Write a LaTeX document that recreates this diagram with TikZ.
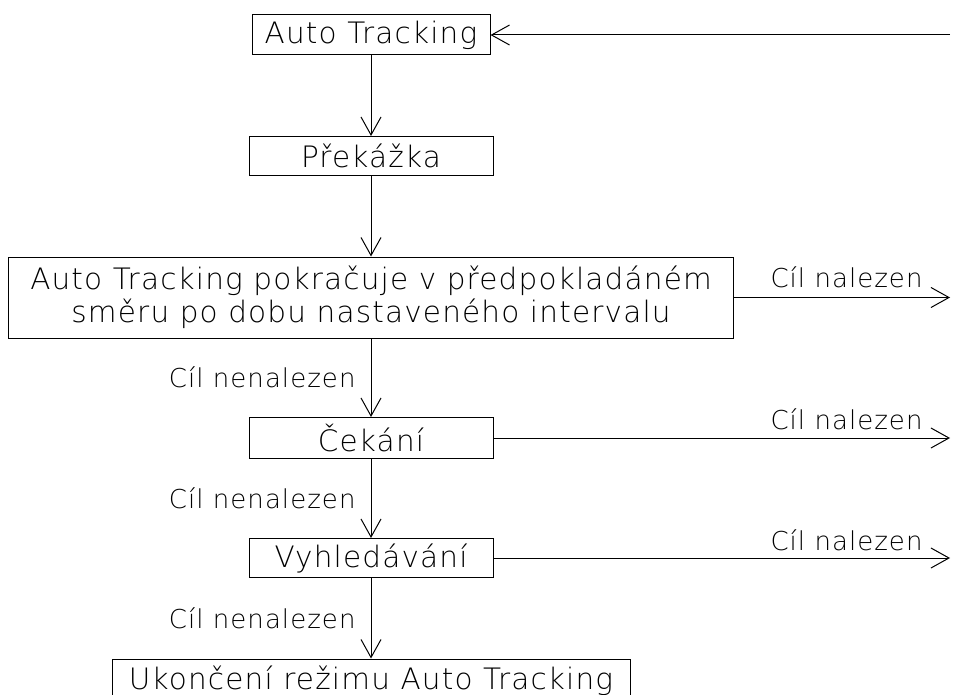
\documentclass[tikz,border=0pt]{standalone}
\usepackage{fontspec}
\setmainfont{DejaVu Sans}[UprightFont=* ExtraLight, LetterSpace=4]
\usepackage{tikz}
\usetikzlibrary{arrows.meta}

\begin{document}
\begin{tikzpicture} [x=1pt,y=-1pt,
			box/.style={draw,inner sep=0pt,minimum width=244pt,minimum height=40pt,font=\fontsize{29.5}{33}\selectfont},
			lbl/.style={inner sep=0pt,font=\fontsize{26}{30}\selectfont},
			arr/.style={-{Straight Barb[length=18pt,width=20pt]}},
			line width=1pt]
			\useasboundingbox (0,0) rectangle (957,695);
			\node[box,minimum width=238pt] (auto) at (371,35) {Auto Tracking};
			\node[box,minimum height=39pt] (prek) at (371,156) {Překážka};
			\node[box,minimum width=725pt,minimum height=81pt,align=center] (pokr) at (371,297.5)
				{Auto Tracking pokračuje v předpokladáném\\směru po dobu nastaveného intervalu};
			\node[box,minimum height=41pt] (cek) at (371,438) {Čekání};
			\node[box,minimum height=39pt] (vyh) at (371,558) {Vyhledávání};
			\node[box,minimum width=518pt,minimum height=44pt] (konec) at (371,681) {Ukončení režimu Auto Tracking};

			% right ends
			\coordinate (back) at (950,35);
			\coordinate (r_1) at (950,297.5);
			\coordinate (r_2) at (950,438);
			\coordinate (r_3) at (950,558);

			\path[arr] (back) edge (auto);
			\path[arr] (auto) edge (prek);
			\path[arr] (prek) edge (pokr);
			\path[arr] (pokr) edge node[lbl,left=15pt] {Cíl nenalezen} (cek);
			\path[arr] (cek) edge node[lbl,left=15pt] {Cíl nenalezen} (vyh);
			\path[arr] (vyh) edge node[lbl,left=15pt] {Cíl nenalezen} (konec);

			\path[arr] (pokr) edge node[lbl,pos=1,anchor=base east,xshift=-27pt,yshift=10pt] {Cíl nalezen} (r_1);
			\path[arr] (cek) edge node[lbl,pos=1,anchor=base east,xshift=-27pt,yshift=9pt] {Cíl nalezen} (r_2);
			\path[arr] (vyh) edge node[lbl,pos=1,anchor=base east,xshift=-27pt,yshift=8pt] {Cíl nalezen} (r_3);
		\end{tikzpicture}
\end{document}
